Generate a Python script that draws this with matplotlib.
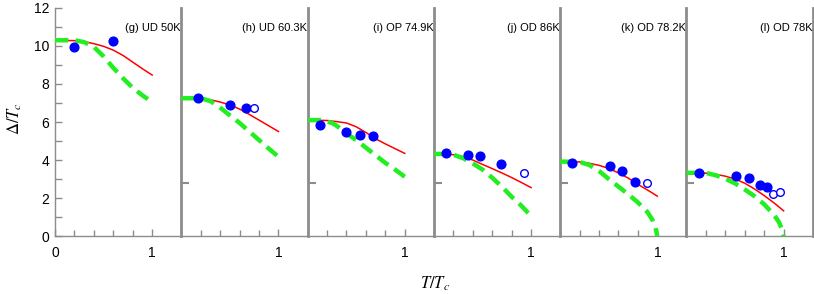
import numpy as np
import matplotlib
matplotlib.use("Agg")
import matplotlib.pyplot as plt
from matplotlib.ticker import FixedLocator

plt.rcParams['font.family'] = ['Liberation Sans', 'DejaVu Sans']
plt.rcParams['mathtext.fontset'] = 'stix'

# panel labels
labels = ["(g) UD 50K", "(h) UD 60.3K", "(i) OP 74.9K",
          "(j) OD 86K", "(k) OD 78.2K", "(l) OD 78K"]

# red solid curves
red_x = [0, 0.2, 0.3, 0.4, 0.5, 0.6, 0.7, 0.8, 0.9, 1.0]
red_y = [
    [10.3, 10.28, 10.23, 10.12, 9.98, 9.78, 9.5, 9.15, 8.8, 8.47],
    [7.25, 7.23, 7.17, 7.05, 6.9, 6.68, 6.4, 6.1, 5.8, 5.5],
    [6.1, 6.08, 6.02, 5.95, 5.75, 5.45, 5.12, 4.85, 4.6, 4.35],
    [4.32, 4.28, 4.18, 4.0, 3.77, 3.55, 3.32, 3.08, 2.82, 2.55],
    [3.92, 3.9, 3.83, 3.72, 3.56, 3.32, 3.05, 2.72, 2.42, 2.1],
    [3.33, 3.31, 3.25, 3.15, 3.0, 2.78, 2.48, 2.13, 1.75, 1.33],
]

# green dashed curves
green_x = [
    [0, 0.2, 0.3, 0.4, 0.5, 0.6, 0.7, 0.8, 0.9, 1.0],
    [0, 0.2, 0.3, 0.4, 0.5, 0.6, 0.7, 0.8, 0.9, 1.0],
    [0, 0.15, 0.25, 0.3, 0.4, 0.5, 0.6, 0.7, 0.8, 0.9, 1.0],
    [0, 0.15, 0.2, 0.3, 0.4, 0.5, 0.6, 0.7, 0.8, 0.9, 1.0],
    [0, 0.2, 0.3, 0.4, 0.5, 0.6, 0.7, 0.8, 0.9, 0.95, 0.98, 1.0],
    [0, 0.2, 0.3, 0.4, 0.5, 0.6, 0.7, 0.8, 0.9, 0.95, 0.98, 1.0],
]
green_y = [
    [10.3, 10.3, 10.2, 9.95, 9.45, 8.85, 8.3, 7.8, 7.4, 7.05],
    [7.25, 7.25, 7.1, 6.75, 6.35, 5.95, 5.5, 5.05, 4.6, 4.17],
    [6.1, 6.1, 5.95, 5.8, 5.4, 5.05, 4.65, 4.25, 3.85, 3.5, 3.12],
    [4.32, 4.32, 4.28, 4.1, 3.82, 3.5, 3.07, 2.6, 2.07, 1.6, 1.05],
    [3.92, 3.9, 3.74, 3.42, 3.0, 2.6, 2.2, 1.77, 1.25, 0.85, 0.45, 0.0],
    [3.33, 3.32, 3.2, 3.02, 2.77, 2.45, 2.1, 1.67, 1.12, 0.75, 0.4, 0.0],
]

# filled data points
dot_x = [
    [0.2, 0.6],
    [0.17, 0.5, 0.67],
    [0.13, 0.4, 0.54, 0.67],
    [0.12, 0.35, 0.47, 0.69],
    [0.12, 0.51, 0.64, 0.765],
    [0.13, 0.51, 0.64, 0.76, 0.83],
]
dot_y = [
    [9.93, 10.28],
    [7.28, 6.9, 6.75],
    [5.84, 5.49, 5.32, 5.26],
    [4.35, 4.28, 4.21, 3.79],
    [3.83, 3.68, 3.4, 2.82],
    [3.3, 3.17, 3.04, 2.7, 2.6],
]

# open data points
open_x = [[], [0.75], [], [0.93], [0.89], [0.89, 0.96]]
open_y = [[], [6.72], [], [3.33], [2.81], [2.21, 2.33]]

panel_ytick = [2.8]
gray = '#8c8c8c'

fig, axes = plt.subplots(1, 6, figsize=(8.14, 2.94), dpi=100)
fig.subplots_adjust(left=0.0676, right=0.9985, bottom=0.197, top=0.973, wspace=0)

for i, ax in enumerate(axes):
    ax.plot(red_x, red_y[i], color='#ff0000', lw=1.1, zorder=2)
    ax.plot(green_x[i], green_y[i], color='#22ee22', lw=3.2,
            dashes=(3.0, 1.6), zorder=3)
    ax.plot(dot_x[i], dot_y[i], 'o', color='#0000ff', ms=6.3, zorder=4)
    ax.plot(open_x[i], open_y[i], 'o', mfc='white', mec='#0000ff',
            mew=1.0, ms=5.5, zorder=4)

    ax.set_xlim(0, 1.3)
    ax.set_ylim(0, 12)
    ax.text(0.995, 0.912, labels[i], transform=ax.transAxes,
            ha='right', va='center', fontsize=8)

    for s in ['top', 'right']:
        ax.spines[s].set_visible(False)
    ax.spines['bottom'].set_color(gray)
    ax.spines['bottom'].set_linewidth(1.0)
    ax.spines['left'].set_color(gray)
    ax.spines['left'].set_linewidth(1.0 if i == 0 else 2.0)

    ax.xaxis.set_major_locator(FixedLocator([0, 1]))
    ax.xaxis.set_minor_locator(FixedLocator([0.2, 0.4, 0.6, 0.8]))
    ax.set_xticklabels(['0' if i == 0 else '', '1'])
    ax.tick_params(axis='x', which='both', direction='in', colors=gray,
                   labelcolor='black', labelsize=10, pad=7)
    ax.tick_params(axis='x', which='major', length=5, width=1)
    ax.tick_params(axis='x', which='minor', length=4, width=1)

    if i == 0:
        ax.set_yticks(np.arange(0, 13, 2))
        ax.set_yticks(np.arange(1, 12, 2), minor=True)
        ax.tick_params(axis='y', which='both', direction='in', colors=gray,
                       labelcolor='black', labelsize=10, pad=4, length=5, width=1)
    else:
        ax.set_yticks(panel_ytick)
        ax.set_yticklabels([])
        ax.tick_params(axis='y', which='major', direction='in', colors=gray,
                       length=6, width=1.5)

axes[-1].spines['right'].set_visible(True)
axes[-1].spines['right'].set_color(gray)
axes[-1].spines['right'].set_linewidth(2.0)

fig.text(0.018, 0.598, r'$\Delta/T_c$', rotation=90, ha='center', va='center',
         fontsize=12)
fig.text(0.534, 0.035, r'$T/T_c$', ha='center', va='center', fontsize=12)

fig.savefig('out.png', dpi=100)
